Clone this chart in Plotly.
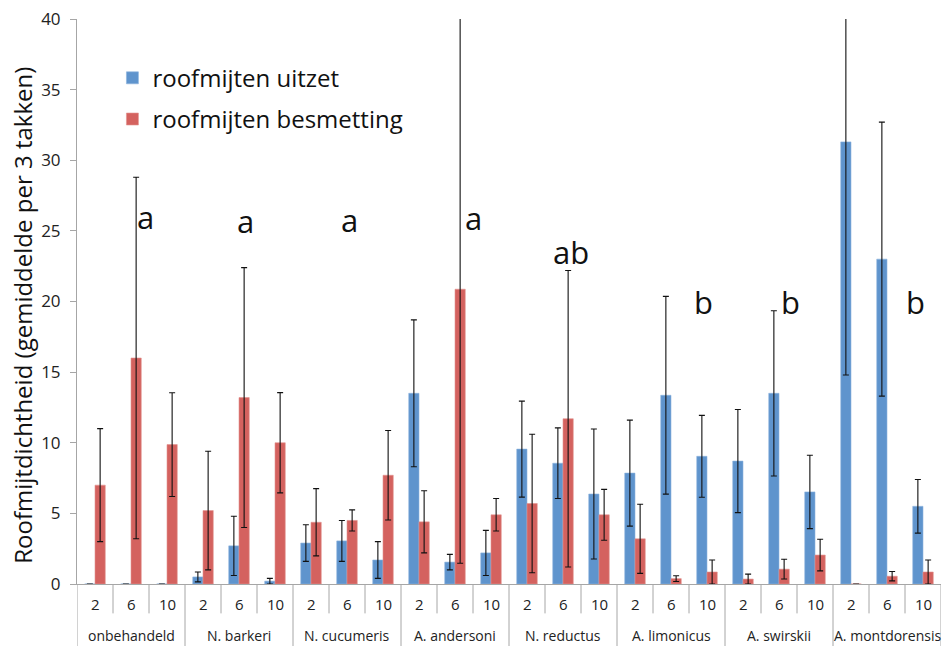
import plotly.graph_objects as go

groups = ["onbehandeld", "N. barkeri", "N. cucumeris", "A. andersoni",
          "N. reductus", "A. limonicus", "A. swirskii", "A. montdorensis"]
doses = ["2", "6", "10"]

uitzet = [0, 0, 0,
          0.5, 2.7, 0.2,
          2.9, 3.05, 1.7,
          13.5, 1.55, 2.2,
          9.55, 8.55, 6.37,
          7.85, 13.36, 9.04,
          8.7, 13.5, 6.52,
          31.3, 23.0, 5.5]
uitzet_err = [None, None, None,
              0.35, 2.1, 0.2,
              1.3, 1.45, 1.3,
              5.2, 0.55, 1.6,
              3.4, 2.5, 4.6,
              3.75, 7.0, 2.9,
              3.65, 5.85, 2.6,
              16.5, 9.7, 1.9]

besmetting = [7.0, 16.0, 9.87,
              5.2, 13.2, 10.0,
              4.37, 4.5, 7.7,
              4.4, 20.87, 4.9,
              5.7, 11.7, 4.9,
              3.2, 0.38, 0.85,
              0.35, 1.05, 2.05,
              0, 0.55, 0.85]
besmetting_err = [4.0, 12.8, 3.67,
                  4.2, 9.2, 3.55,
                  2.38, 0.75, 3.17,
                  2.2, 19.4, 1.15,
                  4.9, 10.5, 1.8,
                  2.45, 0.2, 0.85,
                  0.35, 0.7, 1.12,
                  None, 0.33, 0.85]

letters = ["a", "a", "a", "a", "ab", "b", "b", "b"]

y_title = "Roofmijtdichtheid (gemiddelde per 3 takken)"

# placement of the letter labels (x in slot units, y in data units)
letter_pos = [(1.39, 26.0), (4.17, 25.7), (7.08, 25.8), (10.5, 25.9),
              (13.22, 23.5), (16.89, 20.0), (19.33, 20.0), (22.78, 20.0)]

BLUE = "#5F94CD"
RED = "#D4625F"
FONT = "Open Sans"

n = len(groups) * len(doses)
idx = list(range(n))
dose_labels = [doses[i % 3] for i in idx]

err_style = dict(type="data", color="#111111", thickness=1.1, width=3)

fig = go.Figure()
fig.add_trace(go.Bar(
    x=idx, y=uitzet, name="roofmijten uitzet", legendgroup="u",
    marker=dict(color=BLUE, line=dict(color="#8DB3DE", width=0.6)),
    error_y=dict(array=uitzet_err, **err_style),
))
fig.add_trace(go.Bar(
    x=idx, y=besmetting, name="roofmijten besmetting", legendgroup="b",
    marker=dict(color=RED, line=dict(color="#E39391", width=0.6)),
    error_y=dict(array=besmetting_err, **err_style),
))

axis_grey = "#A6A6A6"
shapes = []
annotations = []

# dose labels and separators
for i in idx:
    annotations.append(dict(x=i, y=-0.036, xref="x", yref="paper",
                            text=dose_labels[i], showarrow=False,
                            font=dict(family=FONT, size=15, color="#222"),
                            yanchor="middle"))
for b in range(n + 1):
    xb = b - 0.5
    y0 = -0.112 if b % 3 == 0 else -0.052
    shapes.append(dict(type="line", xref="x", yref="paper", x0=xb, x1=xb,
                       y0=0, y1=y0, line=dict(color=axis_grey, width=1)))

# group labels
for g, name in enumerate(groups):
    annotations.append(dict(x=g * 3 + 1, y=-0.091, xref="x", yref="paper",
                            text=name, showarrow=False,
                            font=dict(family=FONT, size=14, color="#222"),
                            yanchor="middle"))

# significance letters
for (lx, ly), t in zip(letter_pos, letters):
    annotations.append(dict(x=lx, y=ly, xref="x", yref="y", text=t,
                            showarrow=False,
                            font=dict(family=FONT, size=31, color="#111"),
                            yanchor="middle"))

# y-axis title
annotations.append(dict(x=-0.064, y=0.476, xref="paper", yref="paper",
                        text=y_title, textangle=-90, showarrow=False,
                        font=dict(family=FONT, size=24, color="#111"),
                        xanchor="center", yanchor="middle"))

fig.update_layout(
    width=946, height=646,
    margin=dict(l=77, r=5, t=19, b=62),
    paper_bgcolor="white", plot_bgcolor="white",
    barmode="group", bargap=0.43, bargroupgap=0,
    font=dict(family=FONT, color="#222"),
    showlegend=True,
    legend=dict(x=0.041, y=0.935, xanchor="left", yanchor="top",
                font=dict(family=FONT, size=24, color="#111"),
                bgcolor="rgba(0,0,0,0)", tracegroupgap=7,
                traceorder="grouped"),
    shapes=shapes,
    annotations=annotations,
)

fig.update_xaxes(range=[-0.5, n - 0.5], showticklabels=False, ticks="",
                 showgrid=False, zeroline=False, showline=True,
                 linecolor=axis_grey, linewidth=1)
fig.update_yaxes(range=[0, 40], dtick=5, tick0=0, showgrid=False,
                 zeroline=False, showline=True, linecolor=axis_grey,
                 linewidth=1, ticks="outside", ticklen=6, tickcolor=axis_grey,
                 ticklabelstandoff=6,
                 tickfont=dict(family=FONT, size=17, color="#222"))

fig.write_html("out.html", config={"displayModeBar": False},
               post_script="document.body.style.margin='0';"
                           "document.body.style.overflow='hidden';")
